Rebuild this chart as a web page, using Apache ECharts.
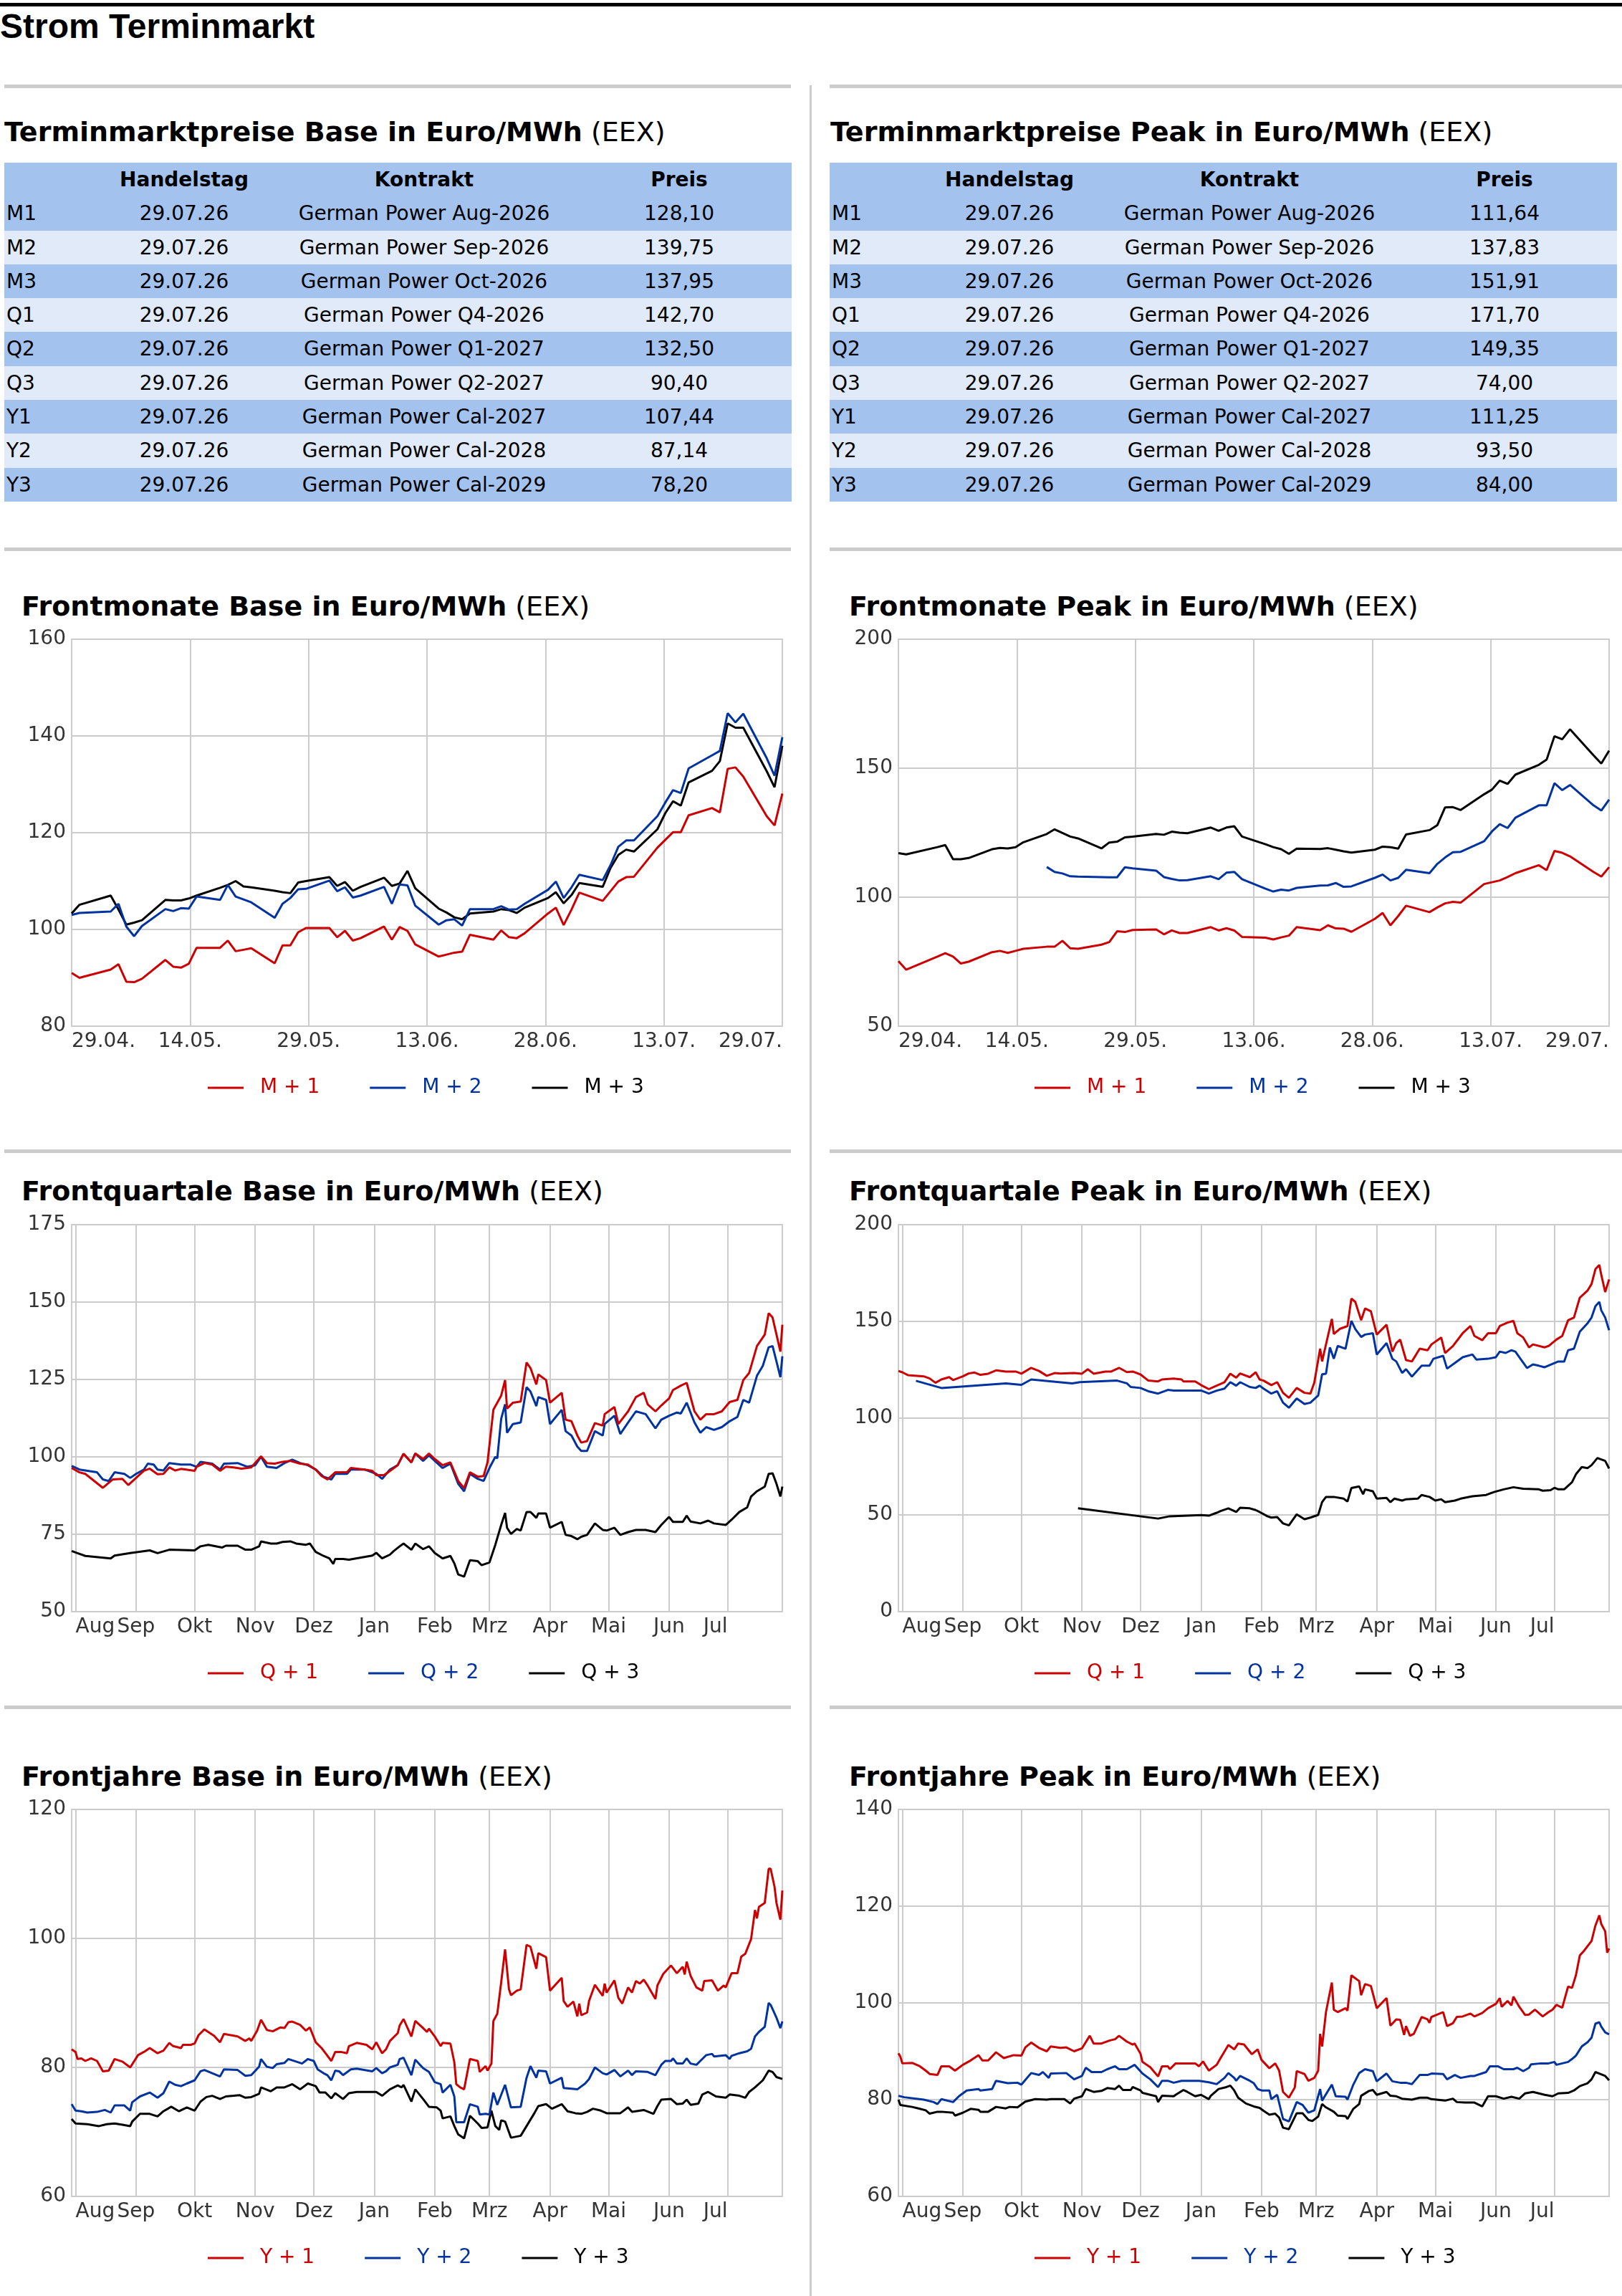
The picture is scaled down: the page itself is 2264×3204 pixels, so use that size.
<!DOCTYPE html>
<html><head><meta charset="utf-8">
<script src="https://cdn.jsdelivr.net/npm/echarts@6/dist/echarts.min.js"></script>
<style>
html,body{margin:0;padding:0;background:#fff;}
body{width:2264px;height:3204px;position:relative;overflow:hidden;font-family:'DejaVu Sans',sans-serif;color:#000;}
.abs{position:absolute;}
.rule{position:absolute;background:#cccccc;height:5px;}
.title{position:absolute;font-size:38px;line-height:38px;white-space:nowrap;}
.title b{font-weight:bold;}
.tbl{position:absolute;width:1099px;font-size:28px;}
.row{display:flex;height:47.3px;line-height:47.3px;white-space:nowrap;}
.row div{box-sizing:border-box;}
.c1{width:100px;padding-left:3px;text-align:left;}
.c2{width:302px;text-align:center;}
.c3{width:368px;text-align:center;}
.c4{width:329px;padding-left:15px;text-align:center;}
.hdr{font-weight:bold;}
.chart{position:absolute;width:1110px;height:760px;}
</style></head><body>
<div class="abs" style="left:0;top:4px;width:2264px;height:5px;background:#000"></div>
<div class="abs" style="left:0;top:13px;font-family:'Liberation Sans',Arial,sans-serif;font-weight:bold;font-size:48px;line-height:48px;white-space:nowrap">Strom Terminmarkt</div>

<div class="abs" style="left:1130px;top:119px;width:3px;height:3085px;background:#cccccc"></div>

<div class="rule" style="left:6px;width:1098px;top:118px"></div>
<div class="rule" style="left:1158px;width:1106px;top:118px"></div>
<div class="rule" style="left:6px;width:1098px;top:764px"></div>
<div class="rule" style="left:1158px;width:1106px;top:764px"></div>
<div class="rule" style="left:6px;width:1098px;top:1604px"></div>
<div class="rule" style="left:1158px;width:1106px;top:1604px"></div>
<div class="rule" style="left:6px;width:1098px;top:2380px"></div>
<div class="rule" style="left:1158px;width:1106px;top:2380px"></div>

<div class="title" style="left:6px;top:165px"><b>Terminmarktpreise Base in Euro/MWh</b> (EEX)</div>
<div class="title" style="left:1159px;top:165px"><b>Terminmarktpreise Peak in Euro/MWh</b> (EEX)</div>
<div id="tblBase" class="tbl" style="left:6px;top:227px"></div>
<div id="tblPeak" class="tbl" style="left:1158px;top:227px"></div>

<div class="title" style="left:30px;top:827px"><b>Frontmonate Base in Euro/MWh</b> (EEX)</div>
<div class="title" style="left:1185px;top:827px"><b>Frontmonate Peak in Euro/MWh</b> (EEX)</div>
<div class="title" style="left:30px;top:1643px"><b>Frontquartale Base in Euro/MWh</b> (EEX)</div>
<div class="title" style="left:1185px;top:1643px"><b>Frontquartale Peak in Euro/MWh</b> (EEX)</div>
<div class="title" style="left:30px;top:2460px"><b>Frontjahre Base in Euro/MWh</b> (EEX)</div>
<div class="title" style="left:1185px;top:2460px"><b>Frontjahre Peak in Euro/MWh</b> (EEX)</div>

<div id="cMB" class="chart" style="left:0;top:852px"></div>
<div id="cMP" class="chart" style="left:1154px;top:852px"></div>
<div id="cQB" class="chart" style="left:0;top:1669px"></div>
<div id="cQP" class="chart" style="left:1154px;top:1669px"></div>
<div id="cYB" class="chart" style="left:0;top:2485px"></div>
<div id="cYP" class="chart" style="left:1154px;top:2485px"></div>

<script>
// ---------- table data ----------
const tableHeader = ['', 'Handelstag', 'Kontrakt', 'Preis'];
const tableRows = ['M1','M2','M3','Q1','Q2','Q3','Y1','Y2','Y3'];
const tradeDate = '29.07.26';
const contracts = ['German Power Aug-2026','German Power Sep-2026','German Power Oct-2026','German Power Q4-2026','German Power Q1-2027','German Power Q2-2027','German Power Cal-2027','German Power Cal-2028','German Power Cal-2029'];
const basePrices = ['128,10','139,75','137,95','142,70','132,50','90,40','107,44','87,14','78,20'];
const peakPrices = ['111,64','137,83','151,91','171,70','149,35','74,00','111,25','93,50','84,00'];

// ---------- front months (day offsets from 29.04.2026) ----------
const mDays = [0,1,5,6,7,8,9,12,13,14,15,16,19,20,21,22,23,26,27,28,29,30,33,34,35,36,37,40,41,42,43,44,47,48,49,50,51,54,55,56,57,58,61,62,63,64,65,68,69,70,71,72,75,76,77,78,79,82,83,84,85,86,89,90,91];
const mBaseM1 = [91.0,90.0,91.7,92.8,89.2,89.1,89.8, 93.7,92.3,92.1,92.9,96.2, 96.2,97.7,95.5,95.8,96.1, 93.0,96.7,96.7,99.4,100.3, 100.3,98.4,99.7,97.7,98.2, 100.6,97.9,100.5,99.7,96.9, 94.4,94.8,95.2,95.4,98.9, 97.9,99.8,98.4,98.2,99.2, 103.3,104.5,100.9,104.1,107.6, 105.9,107.9,109.9,110.8,110.9, 116.9,118.5,120.1,120.1,123.6, 125.1,124.2,133.2,133.5,131.6, 123.4,121.5,128.1];
const mBaseM2 = [103.0,103.4,103.7,105.3,100.6,98.6,100.7, 104.2,103.8,104.4,104.3,106.8, 106.1,109.2,106.8,106.2,105.6, 102.4,105.3,106.5,108.3,108.4, 110.1,107.9,108.7,106.6,107.0, 108.8,105.3,109.3,109.1,104.9, 101.0,101.9,102.1,100.8,104.2, 104.2,104.8,104.1,104.2,105.3, 108.2,109.9,106.5,108.7,111.3, 110.2,113.3,117.1,118.4,118.4, 123.4,126.2,128.8,128.2,133.3, 136.0,136.9,144.7,142.8,144.6, 135.4,131.8,139.75];
const mBaseM3 = [103.3,105.1,107.0,104.1,101.0,101.4,101.9, 106.1,106.0,106.0,106.4,107.0, 108.6,109.2,110.0,108.9,108.7, 108.0,107.7,107.5,109.7,110.0, 110.8,109.0,109.8,108.0,108.8, 110.7,109.0,109.5,112.1,108.5, 104.3,103.5,102.5,102.1,103.3, 103.7,104.2,104.0,103.4,104.5, 106.5,107.7,105.4,107.1,109.6, 108.8,112.7,115.4,116.5,116.1, 120.7,124.0,126.5,125.6,130.4, 132.8,134.8,142.6,141.7,141.7, 132.7,129.4,137.95];
const mPeakM1 = [75.2,71.9,77.0,78.3,77.0,74.3,75.0, 78.7,79.2,78.4,79.2,80.0, 80.8,80.8,83.1,80.2,80.0, 81.6,82.6,86.8,86.5,87.3, 87.5,85.6,87.1,86.1,86.1, 88.4,87.1,88.0,87.1,84.6, 84.3,83.6,84.4,85.1,88.4, 87.2,89.1,87.9,87.8,86.6, 91.6,93.9,89.1,92.7,96.7, 94.2,96.0,97.6,98.2,97.9, 105.1,105.8,106.5,107.8,109.3, 112.4,110.5,117.9,117.2,115.8, 109.8,108.0,111.64];
const mPeakM2 = [null,null,null,null,null,null,null, null,null,null,null,null, 111.7,109.8,109.2,108.1,108.0, 107.8,107.7,107.7,111.6,111.2, 110.3,107.8,107.1,106.5,106.6, 108.1,107.0,109.5,109.8,107.0, 103.3,102.2,102.9,102.6,103.6, 104.5,104.6,105.5,104.0,104.2, 107.5,108.8,106.5,107.5,110.6, 109.3,112.9,115.4,117.4,117.6, 121.7,125.5,128.3,126.8,130.8, 135.6,135.6,144.2,141.5,143.5, 135.6,133.6,137.83];
const mPeakM3 = [117.1,116.6,119.4,120.2,114.7,114.7,115.2, 118.6,119.1,118.9,119.4,121.3, 124.5,126.3,124.9,123.5,122.8, 118.9,121.2,121.5,123.2,123.5, 124.5,124.2,125.4,125.0,124.8, 127.0,125.7,127.0,127.5,123.5, 120.5,119.4,118.6,116.8,118.8, 118.7,119.0,118.4,117.8,117.3, 118.4,119.6,119.4,118.8,124.3, 126.0,127.9,134.8,134.9,133.8, 139.9,141.7,145.2,143.9,147.5, 151.3,153.3,162.4,161.2,165.1, 155.0,151.8,156.8];

// ---------- front quarters / years: [day offset from 01.08.2025, value] ----------
const qBaseQ1 = [[-2,96.4],[2,95.0],[5,94.5],[14,90.0],[19,92.7],[24,92.9],[27,90.9],[31,93.2],[35,95.5],[38,96.2],[42,94.4],[45,94.5],[48,96.6],[51,95.6],[54,96.1],[61,95.5],[62,96.8],[66,98.0],[70,97.5],[74,95.5],[77,96.8],[81,96.6],[85,96.2],[90,96.6],[95,100.2],[98,98.0],[102,97.8],[106,98.4],[110,98.7],[115,97.8],[119,97.5],[123,95.9],[126,93.8],[129,92.7],[133,95.0],[139,95.0],[141,96.4],[148,95.9],[152,95.5],[154,94.1],[158,94.1],[162,95.9],[165,97.3],[168,101.0],[172,98.2],[174,101.1],[178,99.3],[181,101.1],[184,99.3],[188,97.3],[192,98.2],[196,92.2],[199,89.9],[202,95.0],[206,93.6],[209,93.8],[211,98.2],[214,115.2],[218,119.8],[220,124.8],[221,115.6],[224,117.5],[228,117.9],[231,130.5],[233,128.7],[236,123.4],[237,126.6],[241,124.8],[243,117.5],[249,120.7],[251,112.0],[254,111.5],[257,106.9],[259,104.6],[262,105.1],[266,110.9],[270,110.1],[271,113.8],[276,116.1],[278,110.6],[283,114.7],[287,119.3],[291,120.7],[293,117.0],[297,114.7],[300,116.6],[304,118.9],[306,121.6],[310,123.0],[313,123.9],[317,114.7],[320,112.0],[323,113.8],[327,113.8],[331,114.7],[335,117.7],[339,118.4],[342,124.8],[345,127.1],[349,135.8],[353,139.5],[355,146.4],[357,145.0],[359,139.5],[361,134.0],[362,142.7]];
const qBaseQ2 = [[-2,97.1],[2,95.9],[11,95.0],[14,92.7],[17,92.2],[20,95.0],[25,94.5],[28,93.2],[31,94.5],[35,95.9],[37,97.8],[40,97.5],[42,95.9],[45,95.6],[48,98.0],[54,97.5],[59,97.5],[62,96.8],[64,98.4],[70,97.8],[74,95.9],[76,97.8],[83,98.0],[88,96.8],[92,97.3],[95,100.0],[98,96.8],[103,96.4],[107,98.0],[111,99.1],[115,98.0],[119,97.3],[123,95.9],[127,93.6],[131,92.7],[133,94.5],[139,94.5],[141,95.9],[148,95.9],[152,95.0],[154,94.5],[157,92.9],[161,95.9],[165,97.3],[168,101.0],[172,98.2],[174,101.1],[178,98.7],[181,100.5],[184,98.7],[188,96.4],[192,97.8],[196,91.3],[199,88.9],[202,94.5],[206,92.9],[209,92.2],[212,96.4],[215,100.0],[216,99.5],[218,112.3],[220,117.0],[221,107.8],[224,110.6],[228,111.1],[231,122.5],[233,121.1],[236,116.4],[237,119.3],[241,118.4],[243,110.6],[249,115.2],[251,108.3],[254,106.9],[257,103.3],[259,101.9],[262,101.9],[266,108.3],[270,106.9],[271,110.6],[276,113.3],[279,107.4],[283,111.1],[287,114.7],[292,113.8],[297,109.2],[300,112.0],[304,113.3],[308,114.3],[310,114.0],[313,117.5],[317,111.1],[320,107.8],[323,109.6],[327,108.7],[331,109.6],[335,111.5],[339,112.9],[342,118.4],[345,117.5],[349,126.2],[352,129.4],[355,135.4],[357,135.8],[359,130.8],[361,125.7],[362,132.5]];
const qBaseQ3 = [[-2,69.6],[1,68.9],[5,68.0],[18,67.2],[20,68.1],[28,68.9],[38,69.8],[42,68.9],[48,70.0],[61,69.8],[64,71.1],[68,71.6],[75,70.7],[77,71.3],[83,71.3],[87,70.0],[90,70.0],[94,71.1],[95,72.7],[100,72.0],[103,72.0],[106,72.5],[110,72.7],[113,72.0],[118,71.6],[120,72.0],[123,69.3],[127,68.0],[130,67.2],[132,65.4],[133,67.0],[137,67.0],[140,66.8],[152,68.1],[154,69.0],[157,67.2],[161,68.4],[163,69.6],[166,71.1],[168,72.0],[172,70.0],[174,72.0],[178,70.2],[181,71.1],[184,68.9],[188,67.2],[192,68.0],[194,65.6],[196,62.0],[199,61.3],[202,66.6],[206,66.3],[208,65.0],[212,65.9],[215,71.6],[218,78.0],[220,81.9],[221,77.1],[223,75.1],[226,76.7],[228,76.2],[231,82.2],[233,82.2],[236,80.3],[237,81.7],[241,81.7],[243,77.1],[249,79.0],[251,74.8],[254,74.4],[257,73.4],[259,74.2],[262,74.8],[266,78.5],[270,76.4],[272,76.2],[276,77.1],[279,74.8],[283,75.7],[287,76.4],[292,76.4],[297,75.7],[300,78.0],[304,80.6],[306,79.0],[311,79.0],[313,81.0],[315,79.1],[320,78.5],[324,79.4],[327,78.5],[333,78.0],[336,79.7],[340,82.2],[344,83.7],[346,87.2],[349,88.9],[353,90.4],[355,94.5],[357,94.7],[359,91.3],[361,87.2],[362,90.4]];
const qPeakQ1 = [[-2,124.4],[0,123.7],[3,122.2],[11,121.6],[14,120.5],[17,118.3],[20,120.0],[24,121.2],[26,119.7],[31,121.6],[34,123.1],[37,123.6],[40,122.4],[44,123.0],[48,124.7],[53,124.1],[58,124.1],[61,123.0],[66,126.0],[70,124.4],[74,121.9],[78,123.3],[81,123.1],[88,123.3],[92,123.0],[95,125.3],[98,123.0],[104,124.1],[107,124.1],[111,126.0],[115,123.8],[118,124.1],[122,122.6],[126,119.4],[131,119.0],[133,120.0],[139,120.5],[143,120.0],[144,119.0],[150,119.0],[153,117.1],[157,115.0],[161,116.8],[165,118.6],[168,123.0],[171,120.9],[173,123.1],[178,121.2],[181,123.7],[183,120.0],[185,119.4],[189,117.1],[192,118.6],[195,113.1],[198,110.5],[202,115.6],[206,113.1],[209,112.7],[211,118.3],[214,135.9],[215,129.3],[218,142.5],[220,151.3],[221,143.5],[224,146.1],[228,147.6],[230,161.8],[232,160.1],[235,150.6],[237,156.7],[240,155.2],[243,143.2],[248,148.3],[251,134.4],[253,138.8],[255,140.6],[258,130.0],[261,129.3],[265,135.9],[269,135.1],[271,138.1],[276,141.7],[278,133.7],[282,137.3],[287,143.9],[291,147.6],[293,142.5],[297,140.3],[300,143.9],[304,143.9],[306,147.6],[310,149.4],[313,150.3],[315,143.9],[318,141.7],[321,136.6],[323,138.1],[329,136.6],[331,137.3],[335,140.6],[338,142.5],[341,150.6],[344,152.0],[347,162.3],[351,166.0],[353,169.3],[355,177.0],[357,179.2],[358,174.0],[360,165.2],[362,171.7]];
const qPeakQ2 = [[7,119.3],[20,115.6],[53,118.0],[61,117.2],[66,120.0],[87,118.0],[91,118.6],[110,119.4],[115,118.0],[117,116.1],[122,115.6],[126,113.9],[131,112.7],[136,114.6],[139,114.3],[153,114.3],[157,112.7],[161,114.2],[165,115.3],[168,118.6],[171,116.8],[173,118.6],[178,116.1],[181,115.6],[183,116.8],[185,115.3],[189,112.7],[192,113.9],[195,108.0],[198,105.4],[202,110.2],[206,107.3],[209,108.0],[213,111.7],[215,122.7],[217,123.0],[219,136.6],[221,130.7],[223,137.3],[227,135.9],[230,150.3],[232,146.1],[235,142.0],[237,143.2],[241,143.9],[243,132.9],[248,138.8],[251,130.7],[253,129.3],[256,123.4],[258,125.3],[261,121.5],[266,127.1],[270,127.1],[272,130.7],[277,132.2],[279,125.6],[283,128.5],[287,131.5],[292,132.9],[294,130.3],[300,130.7],[304,131.5],[306,134.4],[309,133.7],[312,135.1],[314,134.4],[316,131.5],[320,125.9],[323,127.8],[326,127.1],[329,126.3],[334,128.5],[336,129.3],[339,129.3],[341,135.1],[344,135.9],[347,144.7],[351,149.1],[353,152.0],[355,157.9],[357,160.1],[358,155.7],[360,152.0],[362,145.4]];
const qPeakQ3 = [[90,53.4],[131,48.1],[137,49.3],[153,49.9],[157,49.6],[161,51.1],[163,52.0],[167,53.4],[171,51.5],[173,53.7],[178,53.4],[181,52.5],[183,51.5],[187,49.3],[189,48.6],[192,48.9],[195,45.6],[198,44.6],[202,50.3],[206,47.8],[209,48.6],[213,50.0],[215,56.6],[217,59.3],[221,59.3],[226,58.4],[228,56.9],[230,63.9],[234,64.7],[236,60.7],[237,63.2],[241,62.2],[243,58.4],[248,58.8],[250,56.6],[252,58.4],[256,57.4],[258,58.1],[264,58.4],[266,60.3],[270,59.3],[273,57.4],[276,58.1],[278,56.6],[283,57.4],[286,58.4],[292,59.6],[299,60.3],[303,61.8],[308,63.2],[313,64.3],[318,63.5],[326,63.2],[328,62.5],[332,62.8],[334,64.0],[336,63.2],[339,63.2],[343,66.9],[345,71.0],[348,74.7],[351,74.2],[353,75.7],[356,79.4],[360,77.9],[362,74.0]];
const yBaseY1 = [[-2,82.8],[0,82.4],[1,81.3],[3,81.4],[5,81.0],[8,81.4],[11,81.0],[14,79.4],[17,79.5],[20,81.3],[24,80.9],[28,80.0],[32,81.9],[35,82.4],[38,83.0],[42,82.2],[45,82.6],[48,83.8],[50,83.3],[54,83.0],[55,83.5],[59,83.5],[61,83.7],[63,85.0],[66,85.9],[71,84.9],[74,83.9],[76,85.2],[83,84.8],[87,84.1],[89,84.5],[90,84.1],[93,85.7],[95,87.4],[98,85.8],[101,85.6],[105,86.2],[107,86.1],[109,87.0],[111,87.1],[115,86.6],[118,85.7],[120,86.2],[123,83.9],[126,83.0],[128,82.2],[131,81.0],[133,82.4],[136,82.4],[139,82.2],[140,83.3],[144,83.8],[149,83.5],[152,82.8],[154,83.9],[157,82.2],[159,82.8],[161,84.1],[165,85.3],[166,86.5],[168,87.5],[172,84.8],[174,87.2],[178,86.1],[180,85.5],[181,86.0],[184,84.8],[187,83.3],[188,83.8],[192,83.7],[194,80.8],[195,77.4],[197,76.9],[199,76.6],[202,81.3],[206,81.0],[207,79.3],[210,80.2],[211,79.5],[213,80.6],[214,87.2],[216,88.3],[218,93.2],[220,98.3],[222,92.1],[223,91.2],[226,91.9],[228,92.1],[231,99.0],[233,98.7],[236,95.3],[237,97.7],[241,97.1],[243,91.9],[249,93.9],[250,90.3],[252,89.4],[255,90.2],[257,87.9],[258,89.9],[259,88.1],[262,88.5],[263,90.3],[266,92.8],[270,91.1],[271,93.0],[272,91.6],[276,93.5],[278,90.8],[280,89.9],[283,92.4],[285,91.6],[287,93.4],[289,93.0],[291,93.6],[293,92.7],[297,90.6],[298,92.7],[301,94.5],[305,95.8],[308,94.6],[311,95.6],[312,94.4],[313,96.4],[315,94.2],[318,92.4],[321,91.9],[322,93.4],[326,93.5],[329,91.9],[332,92.7],[333,92.4],[336,94.6],[339,94.6],[341,97.2],[343,97.6],[346,99.9],[348,104.4],[349,103.1],[350,104.9],[353,105.5],[355,110.8],[356,110.8],[358,108.0],[359,105.5],[361,102.9],[362,107.44]];
const yBaseY2 = [[-2,74.3],[0,73.3],[3,73.2],[6,73.0],[11,73.1],[15,73.4],[18,73.0],[20,74.1],[25,74.1],[28,73.3],[29,74.6],[33,75.5],[38,76.1],[42,75.3],[45,76.0],[48,77.8],[51,77.3],[54,77.1],[57,77.5],[61,78.0],[64,79.4],[66,79.6],[70,79.1],[74,78.6],[76,79.7],[83,79.6],[87,78.7],[90,78.8],[94,80.1],[95,81.3],[98,80.1],[101,79.9],[103,80.5],[107,80.7],[109,81.3],[113,80.9],[116,80.6],[119,81.3],[122,81.0],[124,79.7],[127,79.1],[129,78.8],[131,78.0],[133,79.5],[135,79.4],[137,78.8],[141,79.7],[144,79.8],[152,79.4],[154,79.9],[157,79.1],[159,79.4],[161,80.0],[165,80.4],[166,81.3],[168,81.5],[172,78.8],[174,81.2],[178,79.9],[181,79.3],[184,77.7],[187,77.4],[188,76.1],[192,77.3],[194,75.5],[195,71.5],[199,71.5],[202,74.3],[206,73.9],[207,72.7],[210,72.8],[212,72.7],[214,76.1],[216,74.2],[220,77.3],[223,73.8],[228,73.9],[231,78.4],[233,80.2],[236,78.4],[237,79.5],[241,79.4],[243,77.5],[249,78.4],[250,76.8],[257,76.6],[261,77.5],[263,78.2],[266,80.0],[270,79.1],[272,78.9],[276,79.6],[279,78.6],[283,79.5],[285,78.8],[287,79.4],[293,79.3],[297,78.8],[300,80.4],[302,81.0],[305,81.0],[306,81.4],[308,80.6],[311,80.6],[313,81.4],[315,80.6],[318,80.4],[321,81.3],[323,81.9],[326,82.1],[327,81.7],[333,81.9],[335,81.3],[336,81.8],[340,82.2],[344,82.5],[346,82.9],[348,84.8],[350,85.5],[353,86.3],[355,90.0],[356,89.7],[359,87.7],[361,86.1],[362,87.14]];
const yBaseY3 = [[-2,72.0],[0,71.3],[6,71.2],[12,70.9],[16,71.2],[20,71.3],[24,71.1],[28,70.9],[29,71.6],[33,72.8],[38,72.8],[42,72.4],[45,73.2],[49,73.9],[53,73.2],[57,73.8],[61,73.3],[64,74.7],[67,75.4],[70,75.6],[74,75.1],[77,75.5],[81,75.6],[84,75.7],[87,75.3],[90,75.4],[94,75.9],[95,76.9],[100,76.3],[103,76.9],[107,76.9],[111,77.4],[115,76.6],[119,77.5],[123,77.1],[125,76.1],[128,76.1],[131,75.2],[133,76.0],[137,75.1],[140,76.0],[144,76.2],[154,76.2],[157,75.6],[161,76.6],[165,77.2],[167,76.9],[168,77.3],[172,74.7],[174,76.6],[178,75.1],[181,73.9],[185,73.8],[187,73.3],[188,72.1],[192,72.4],[194,70.9],[196,69.6],[199,69.0],[202,72.5],[206,71.3],[208,70.6],[211,70.7],[213,73.3],[215,70.9],[217,70.3],[218,71.8],[220,71.6],[223,69.1],[228,69.4],[231,70.9],[235,72.9],[237,74.0],[241,74.3],[244,73.6],[249,74.3],[252,73.2],[256,72.9],[259,72.8],[262,73.1],[265,73.6],[269,73.3],[272,72.9],[279,72.9],[283,73.8],[285,73.1],[291,73.4],[296,72.8],[298,74.0],[300,75.0],[305,75.1],[308,74.3],[311,74.4],[313,75.0],[315,74.2],[319,74.4],[321,75.8],[324,76.2],[328,75.5],[333,75.3],[335,75.8],[340,75.6],[343,75.3],[345,76.2],[348,76.9],[352,78.0],[355,79.5],[357,79.3],[359,78.5],[362,78.2]];
const yPeakY1 = [[-2,89.6],[-1,88.9],[0,87.5],[5,87.6],[9,86.9],[12,86.0],[14,85.3],[18,85.1],[20,86.9],[24,86.9],[27,86.0],[31,87.2],[35,88.1],[39,89.2],[41,88.1],[44,88.1],[48,89.8],[52,88.6],[57,89.2],[61,89.1],[63,90.8],[66,91.8],[70,90.7],[74,90.0],[76,91.0],[81,90.7],[84,90.8],[88,90.0],[92,90.6],[96,93.2],[98,91.6],[102,91.6],[106,92.2],[109,92.5],[111,93.2],[115,92.0],[118,91.4],[119,91.6],[122,89.5],[123,87.8],[127,86.7],[131,84.8],[133,86.9],[136,86.9],[137,86.3],[140,87.5],[150,87.5],[152,86.9],[154,87.9],[157,86.0],[161,87.2],[163,88.6],[167,91.3],[170,90.4],[172,91.6],[175,91.4],[179,89.4],[182,90.4],[184,88.2],[188,86.5],[191,87.5],[193,86.0],[195,81.6],[198,80.4],[201,82.5],[202,85.9],[206,85.3],[208,83.9],[211,84.5],[213,86.0],[214,93.6],[215,91.0],[217,98.1],[220,104.2],[221,98.6],[223,98.1],[227,98.9],[228,98.4],[230,105.7],[234,104.5],[235,101.6],[237,103.9],[240,103.5],[243,98.9],[248,101.0],[250,95.3],[253,96.6],[255,96.5],[257,93.4],[258,95.2],[260,93.2],[262,93.6],[266,97.1],[269,96.6],[270,95.9],[271,97.1],[277,98.1],[279,95.2],[282,95.8],[284,97.1],[287,97.2],[291,97.8],[293,97.2],[297,97.9],[300,98.9],[304,99.8],[306,101.0],[307,99.2],[310,100.4],[312,99.5],[313,101.3],[316,99.2],[319,97.5],[321,97.6],[324,98.6],[328,97.2],[331,98.1],[333,98.6],[335,99.6],[338,99.0],[341,103.4],[343,103.1],[345,105.7],[347,109.8],[349,110.7],[353,112.8],[355,116.0],[357,118.1],[358,116.3],[360,114.8],[361,110.4],[362,111.25]];
const yPeakY2 = [[-2,80.8],[1,80.5],[11,80.0],[16,79.5],[18,79.1],[20,80.1],[26,79.5],[29,80.7],[33,81.9],[39,82.2],[40,81.9],[46,82.2],[48,83.9],[54,83.4],[59,83.5],[61,83.1],[66,85.5],[70,85.1],[72,85.7],[75,84.5],[76,85.4],[84,85.5],[88,84.2],[92,84.9],[94,86.6],[97,85.7],[102,85.7],[105,86.3],[109,86.9],[111,86.3],[115,86.3],[119,87.2],[123,85.4],[127,84.2],[131,82.6],[133,83.9],[136,83.9],[139,83.5],[143,83.9],[152,83.9],[157,83.6],[161,83.2],[165,84.5],[167,85.5],[170,84.5],[171,83.9],[173,84.9],[178,83.9],[180,83.4],[182,82.2],[184,81.9],[188,81.9],[189,80.1],[192,81.0],[195,76.0],[198,75.5],[202,79.5],[205,78.9],[208,77.3],[211,77.8],[214,82.2],[215,79.8],[220,83.1],[222,80.7],[227,80.6],[228,80.0],[231,83.1],[234,85.5],[237,86.3],[241,85.9],[243,83.8],[248,85.4],[251,83.8],[255,83.5],[258,83.5],[261,83.2],[265,85.1],[269,85.1],[271,85.4],[277,85.3],[279,84.2],[283,85.1],[286,84.5],[291,84.9],[293,84.9],[299,85.7],[301,86.9],[305,86.9],[308,86.3],[313,86.3],[315,86.6],[318,85.9],[321,86.6],[322,87.3],[327,87.5],[331,87.5],[334,87.8],[335,87.2],[338,87.5],[341,87.8],[343,88.4],[345,89.1],[348,91.0],[351,91.9],[353,92.8],[355,95.7],[357,96.0],[358,95.1],[360,93.9],[362,93.5]];
const yPeakY3 = [[-2,80.0],[-1,78.9],[5,78.5],[9,78.1],[12,77.8],[14,77.1],[18,77.5],[20,77.5],[26,77.3],[27,76.7],[31,77.3],[35,78.1],[39,77.9],[40,77.5],[44,77.5],[48,78.5],[53,78.2],[55,78.5],[59,78.4],[63,79.6],[68,80.1],[74,80.0],[76,80.1],[83,80.1],[86,79.2],[88,80.2],[92,80.7],[94,82.2],[98,81.6],[102,81.8],[105,82.4],[109,82.2],[111,82.9],[113,82.0],[117,82.0],[118,82.6],[122,81.9],[123,81.4],[127,81.0],[130,80.7],[131,79.5],[133,80.8],[139,80.7],[140,81.0],[144,82.0],[146,81.6],[150,80.7],[153,81.0],[157,80.1],[158,80.8],[162,82.2],[166,82.6],[168,82.9],[170,81.9],[172,80.4],[176,79.2],[180,78.6],[183,78.3],[185,77.7],[188,76.9],[191,77.1],[193,76.3],[195,74.2],[198,73.9],[202,77.2],[205,77.2],[208,75.8],[210,75.6],[213,76.5],[215,79.1],[217,78.4],[221,77.5],[223,76.7],[227,76.6],[228,76.0],[231,78.1],[234,79.1],[235,80.8],[239,81.8],[241,82.0],[243,81.0],[248,81.6],[250,80.8],[253,80.7],[256,80.2],[261,80.0],[265,80.4],[269,80.4],[271,80.1],[278,79.8],[282,80.2],[284,79.5],[288,79.4],[293,79.4],[297,78.6],[300,80.7],[304,80.7],[308,80.2],[312,80.6],[316,80.2],[319,81.3],[323,81.6],[329,81.0],[333,80.7],[336,81.3],[341,81.4],[344,81.9],[347,82.8],[351,83.4],[353,84.2],[355,85.7],[357,85.4],[360,84.9],[362,84.0]];

// axis tick labels
const monthNames = ['Jan','Feb','Mrz','Apr','Mai','Jun','Jul','Aug','Sep','Okt','Nov','Dez'];

// ---------- tables ----------
function buildTable(id, prices){
  const el = document.getElementById(id);
  let html = '<div class="row hdr" style="background:#a3c2ee">' +
    '<div class="c1">'+tableHeader[0]+'</div><div class="c2">'+tableHeader[1]+'</div><div class="c3">'+tableHeader[2]+'</div><div class="c4">'+tableHeader[3]+'</div></div>';
  tableRows.forEach((r,i)=>{
    const bg = i%2===0 ? '#a3c2ee' : '#e0eaf8';
    html += '<div class="row" style="background:'+bg+'"><div class="c1">'+r+'</div><div class="c2">'+tradeDate+'</div><div class="c3">'+contracts[i]+'</div><div class="c4">'+prices[i]+'</div></div>';
  });
  el.innerHTML = html;
}
buildTable('tblBase', basePrices);
buildTable('tblPeak', peakPrices);

// ---------- charts ----------
const COLORS = ['#cc0000','#0033a0','#000000'];
const DAY = 86400000;
const T0 = Date.UTC(2025,7,1);
const M0 = Date.UTC(2026,3,29);
function pad(n){ return (n<10?'0':'')+n; }

const mctx = document.createElement('canvas').getContext('2d');
mctx.font = '28px "DejaVu Sans"';
function tw(s){ return Math.round(mctx.measureText(s).width); }

function monthSeries(vals){
  const out = [];
  mDays.forEach((d,i)=>{ if(vals[i]!=null) out.push([d*24, vals[i]]); });
  return out;
}
function yearSeries(pairs){ return pairs.map(p=>[T0 + p[0]*DAY, p[1]]); }

const labelBase = {fontSize:28, color:'#333333', fontFamily:'DejaVu Sans'};
const gridLine = {show:true, lineStyle:{color:'#cccccc', width:2}};

function monthAxis(){
  return {type:'value', min:0, max:2184, interval:364,
    axisLine:{show:false}, axisTick:{show:false}, splitLine:gridLine,
    axisLabel:Object.assign({}, labelBase, {margin:8, alignMinLabel:'left', alignMaxLabel:'right',
      formatter:function(v){ const dt=new Date(M0 + v*3600000); return pad(dt.getUTCDate())+'.'+pad(dt.getUTCMonth()+1)+'.'; }})};
}
function timeAxis(){
  const first = monthNames[7], last = monthNames[6];
  return {type:'time', min:T0-2*DAY, max:Date.UTC(2026,6,29), splitNumber:12,
    axisLine:{show:false}, axisTick:{show:false}, splitLine:gridLine,
    axisLabel:Object.assign({}, labelBase, {margin:8,
      rich:{
        l:Object.assign({}, labelBase, {padding:[0,0,0,tw(first)]}),
        r:Object.assign({}, labelBase, {padding:[0,tw(last),0,0]})
      },
      formatter:function(v){
        const d = new Date(v), m = d.getUTCMonth(), y = d.getUTCFullYear();
        const name = monthNames[m];
        if (y===2025 && m===7) return '{l|'+name+'}';
        if (y===2026 && m===6) return '{r|'+name+'}';
        return name;
      }})};
}

function makeChart(id, xAxis, yMin, yMax, yInt, names, datas){
  const chart = echarts.init(document.getElementById(id), null, {renderer:'canvas'});
  chart.setOption({
    animation:false, useUTC:true,
    textStyle:{fontFamily:'DejaVu Sans'},
    grid:{left:100, top:40, width:992, height:540, show:true, borderColor:'#cccccc', borderWidth:2},
    legend:{left:285, top:647, icon:'rect', itemWidth:50, itemHeight:3, itemGap:70, selectedMode:false,
      textStyle:{fontSize:28, fontFamily:'DejaVu Sans', padding:[0,0,0,18]},
      data:names.map((n,i)=>({name:n, textStyle:{color:COLORS[i]}}))},
    xAxis:xAxis,
    yAxis:{type:'value', min:yMin, max:yMax, interval:yInt,
      axisLine:{show:false}, axisTick:{show:false}, splitLine:gridLine,
      axisLabel:Object.assign({}, labelBase, {margin:8})},
    series:names.map((n,i)=>({name:n, type:'line', data:datas[i], symbol:'none', showSymbol:false,
      lineStyle:{width:3, color:COLORS[i]}, itemStyle:{color:COLORS[i]}, emphasis:{disabled:true}, z:3-i}))
  });
}

makeChart('cMB', monthAxis(), 80, 160, 20, ['M + 1','M + 2','M + 3'], [monthSeries(mBaseM1), monthSeries(mBaseM2), monthSeries(mBaseM3)]);
makeChart('cMP', monthAxis(), 50, 200, 50, ['M + 1','M + 2','M + 3'], [monthSeries(mPeakM1), monthSeries(mPeakM2), monthSeries(mPeakM3)]);
makeChart('cQB', timeAxis(), 50, 175, 25, ['Q + 1','Q + 2','Q + 3'], [yearSeries(qBaseQ1), yearSeries(qBaseQ2), yearSeries(qBaseQ3)]);
makeChart('cQP', timeAxis(), 0, 200, 50, ['Q + 1','Q + 2','Q + 3'], [yearSeries(qPeakQ1), yearSeries(qPeakQ2), yearSeries(qPeakQ3)]);
makeChart('cYB', timeAxis(), 60, 120, 20, ['Y + 1','Y + 2','Y + 3'], [yearSeries(yBaseY1), yearSeries(yBaseY2), yearSeries(yBaseY3)]);
makeChart('cYP', timeAxis(), 60, 140, 20, ['Y + 1','Y + 2','Y + 3'], [yearSeries(yPeakY1), yearSeries(yPeakY2), yearSeries(yPeakY3)]);
</script>
</body></html>
